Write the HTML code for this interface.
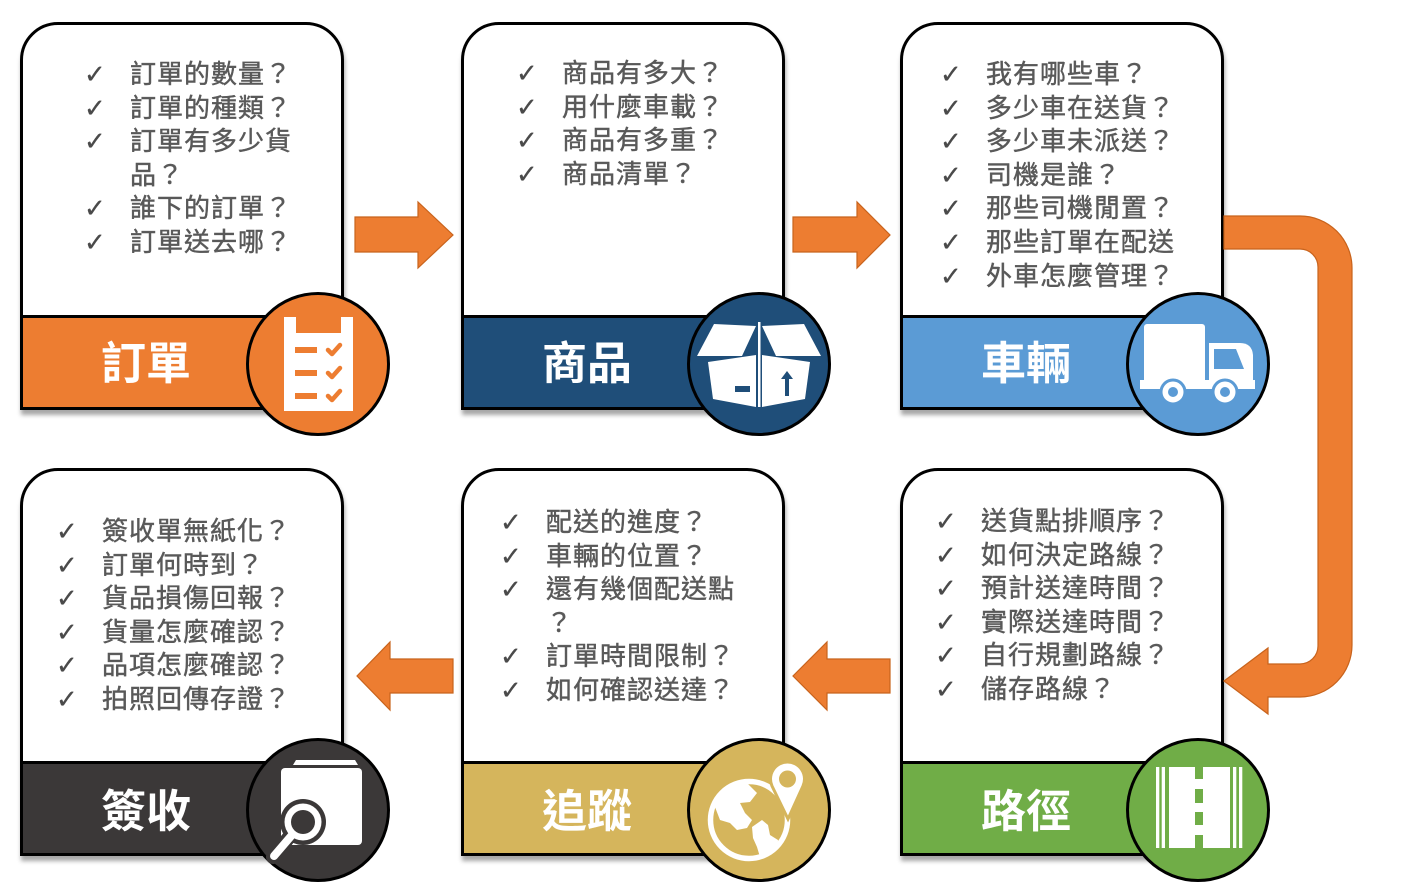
<!DOCTYPE html>
<html><head><meta charset="utf-8">
<style>
html,body{margin:0;padding:0;background:#fff;}
body{width:1401px;height:890px;position:relative;overflow:hidden;font-family:"Liberation Sans","Noto Sans CJK TC",sans-serif;}
.card{position:absolute;width:324px;height:388px;box-sizing:border-box;border:3px solid #000;border-radius:38px 38px 0 0;background:#fff;box-shadow:1px 5px 4px rgba(0,0,0,0.35);}
.ban{position:absolute;left:-3px;right:-3px;bottom:-3px;height:95px;box-sizing:border-box;border:3px solid #000;}
.lbl{position:absolute;width:160px;text-align:center;color:#fff;font-size:45px;font-weight:bold;line-height:46px;font-family:"Liberation Sans","Noto Sans CJK TC",sans-serif;}
.list{position:absolute;font-family:"Liberation Sans","Noto Sans CJK TC",sans-serif;font-size:26px;letter-spacing:1px;line-height:33.6px;color:#595959;white-space:nowrap;-webkit-text-stroke:0.45px #595959;}
.list div{position:relative;height:33.6px;}
.list span{position:absolute;left:-46px;top:1px;font-family:"DejaVu Sans",sans-serif;font-size:26px;color:#4a4a4a;letter-spacing:0;-webkit-text-stroke:0.3px #4a4a4a;}
svg{position:absolute;left:0;top:0;}
</style></head>
<body>

<div class="card" style="left:20px;top:22px;"><div class="ban" style="background:#ED7D31;"></div></div>
<div class="card" style="left:461px;top:22px;"><div class="ban" style="background:#1F4E79;"></div></div>
<div class="card" style="left:900px;top:22px;"><div class="ban" style="background:#5B9BD5;"></div></div>

<div class="card" style="left:20px;top:468px;"><div class="ban" style="background:#3B3838;"></div></div>
<div class="card" style="left:461px;top:468px;"><div class="ban" style="background:#D5B55C;"></div></div>
<div class="card" style="left:900px;top:468px;"><div class="ban" style="background:#70AD47;"></div></div>

<div class="lbl" style="left:66px;top:341px;">訂單</div>
<div class="lbl" style="left:507px;top:341px;">商品</div>
<div class="lbl" style="left:946px;top:341px;">車輛</div>
<div class="lbl" style="left:66px;top:789px;">簽收</div>
<div class="lbl" style="left:507px;top:789px;">追蹤</div>
<div class="lbl" style="left:946px;top:789px;">路徑</div>

<div class="list" style="left:130px;top:58px;">
<div><span>✓</span>訂單的數量？</div>
<div><span>✓</span>訂單的種類？</div>
<div><span>✓</span>訂單有多少貨</div>
<div>品？</div>
<div><span>✓</span>誰下的訂單？</div>
<div><span>✓</span>訂單送去哪？</div>
</div>

<div class="list" style="left:562px;top:57px;">
<div><span>✓</span>商品有多大？</div>
<div><span>✓</span>用什麼車載？</div>
<div><span>✓</span>商品有多重？</div>
<div><span>✓</span>商品清單？</div>
</div>

<div class="list" style="left:986px;top:58px;">
<div><span>✓</span>我有哪些車？</div>
<div><span>✓</span>多少車在送貨？</div>
<div><span>✓</span>多少車未派送？</div>
<div><span>✓</span>司機是誰？</div>
<div><span>✓</span>那些司機閒置？</div>
<div><span>✓</span>那些訂單在配送</div>
<div><span>✓</span>外車怎麼管理？</div>
</div>

<div class="list" style="left:102px;top:515px;">
<div><span>✓</span>簽收單無紙化？</div>
<div><span>✓</span>訂單何時到？</div>
<div><span>✓</span>貨品損傷回報？</div>
<div><span>✓</span>貨量怎麼確認？</div>
<div><span>✓</span>品項怎麼確認？</div>
<div><span>✓</span>拍照回傳存證？</div>
</div>

<div class="list" style="left:546px;top:506px;">
<div><span>✓</span>配送的進度？</div>
<div><span>✓</span>車輛的位置？</div>
<div><span>✓</span>還有幾個配送點</div>
<div>？</div>
<div><span>✓</span>訂單時間限制？</div>
<div><span>✓</span>如何確認送達？</div>
</div>

<div class="list" style="left:981px;top:505px;">
<div><span>✓</span>送貨點排順序？</div>
<div><span>✓</span>如何決定路線？</div>
<div><span>✓</span>預計送達時間？</div>
<div><span>✓</span>實際送達時間？</div>
<div><span>✓</span>自行規劃路線？</div>
<div><span>✓</span>儲存路線？</div>
</div>

<svg width="1401" height="890" viewBox="0 0 1401 890" xmlns="http://www.w3.org/2000/svg">
  <g fill="#ED7D31" stroke="#C8631C" stroke-width="1.2">
    <polygon points="355,217 418,217 418,202 453,235 418,268 418,252 355,252"/>
    <polygon points="793,217 857,217 857,202 890,235 857,268 857,252 793,252"/>
    <polygon points="453,659 390,659 390,642 357,676 390,710 390,693 453,693"/>
    <polygon points="890,659 827,659 827,642 793,676 827,710 827,693 890,693"/>
    <path d="M1224,216 H1300 A52,52 0 0 1 1352,268 V645 A52,52 0 0 1 1300,697 H1268 V714 L1224,681 L1268,648 V664 H1300 A18,18 0 0 0 1318,646 V267 A18,18 0 0 0 1300,249 H1224 Z"/>
  </g>

  <circle cx="318" cy="364" r="70.5" fill="#ED7D31" stroke="#000" stroke-width="3"/>
  <path d="M284,317H296V333H341V317H353V411H284Z" fill="#fff"/>
  <rect x="295" y="347" width="22" height="6" fill="#ED7D31"/>
  <rect x="295" y="370" width="22" height="6" fill="#ED7D31"/>
  <rect x="295" y="393" width="22" height="6" fill="#ED7D31"/>
  <g stroke="#ED7D31" stroke-width="4.5" fill="none" stroke-linecap="round" stroke-linejoin="round">
    <polyline points="328,350 332,354 340,345"/>
    <polyline points="328,373 332,377 340,368"/>
    <polyline points="328,396 332,400 340,391"/>
  </g>

  <circle cx="759" cy="364" r="70.5" fill="#1F4E79" stroke="#000" stroke-width="3"/>
  <g fill="#fff">
    <polygon points="697,356 714,324 756,326 742,356"/>
    <polygon points="762,326 804,324 821,356 776,356"/>
    <polygon points="708,362 756,355 756,407 713,399"/>
    <polygon points="762,355 810,362 805,399 762,407"/>
    <rect x="758" y="322" width="2.5" height="85"/>
  </g>
  <rect x="735" y="386" width="15" height="6" fill="#1F4E79"/>
  <polygon points="787,371 781,379 785,379 785,396 789,396 789,379 793,379" fill="#1F4E79"/>

  <circle cx="1198" cy="364" r="70.5" fill="#5B9BD5" stroke="#000" stroke-width="3"/>
  <rect x="1144" y="324" width="61" height="60" rx="3" fill="#fff"/>
  <path d="M1209,343H1240Q1252,343 1253,355V384H1209Z" fill="#fff"/>
  <polygon points="1214,349 1236,349 1244,369 1214,369" fill="#5B9BD5"/>
  <rect x="1140" y="380" width="115" height="9" fill="#fff"/>
  <circle cx="1173" cy="392" r="12" fill="#fff" stroke="#5B9BD5" stroke-width="3"/>
  <circle cx="1173" cy="392" r="5" fill="#5B9BD5"/>
  <circle cx="1225" cy="392" r="12" fill="#fff" stroke="#5B9BD5" stroke-width="3"/>
  <circle cx="1225" cy="392" r="5" fill="#5B9BD5"/>

  <circle cx="318" cy="810" r="70.5" fill="#3B3838" stroke="#000" stroke-width="3"/>
  <polygon points="296,760 355,760 358,765 293,765" fill="#fff"/>
  <rect x="281" y="768" width="81" height="77" rx="4" fill="#fff"/>
  <line x1="290" y1="836" x2="273" y2="857" stroke="#3B3838" stroke-width="14" stroke-linecap="round"/>
  <circle cx="303" cy="822" r="23" fill="#3B3838"/>
  <circle cx="303" cy="822" r="18.5" fill="#fff"/>
  <circle cx="303" cy="822" r="12" fill="#3B3838"/>
  <line x1="292" y1="835" x2="274" y2="856" stroke="#fff" stroke-width="8" stroke-linecap="round"/>

  <circle cx="759" cy="810" r="70.5" fill="#D5B55C" stroke="#000" stroke-width="3"/>
  <circle cx="749" cy="820" r="38.5" fill="none" stroke="#fff" stroke-width="5.5"/>
  <path d="M723,790 L735,785 L747,783 L757,793 L750,802 L740,803 L745,813 L752,820 L747,828 L737,830 L730,823 L720,820 L715,807 Z" fill="#fff"/>
  <path d="M752,827 L762,820 L768,825 L770,835 L778,840 L777,850 L767,855 L760,857 L757,847 L753,838 Z" fill="#fff"/>
  <path d="M788,819 L772,786 A17,17 0 1 1 803,786 Z" fill="#fff" stroke="#D5B55C" stroke-width="3"/>
  <circle cx="787.5" cy="779" r="8.5" fill="#D5B55C"/>

  <circle cx="1198" cy="810" r="70.5" fill="#70AD47" stroke="#000" stroke-width="3"/>
  <g fill="#fff">
    <rect x="1156" y="767" width="3.3" height="81"/>
    <rect x="1161.7" y="767" width="3.3" height="81"/>
    <rect x="1169" y="767" width="61" height="81"/>
    <rect x="1233" y="767" width="3.3" height="81"/>
    <rect x="1239" y="767" width="3.3" height="81"/>
  </g>
  <g fill="#70AD47">
    <rect x="1195" y="767" width="8" height="12"/>
    <rect x="1195" y="789" width="8" height="14"/>
    <rect x="1195" y="812" width="8" height="13"/>
    <rect x="1195" y="835" width="8" height="13"/>
  </g>
</svg>
</body></html>
